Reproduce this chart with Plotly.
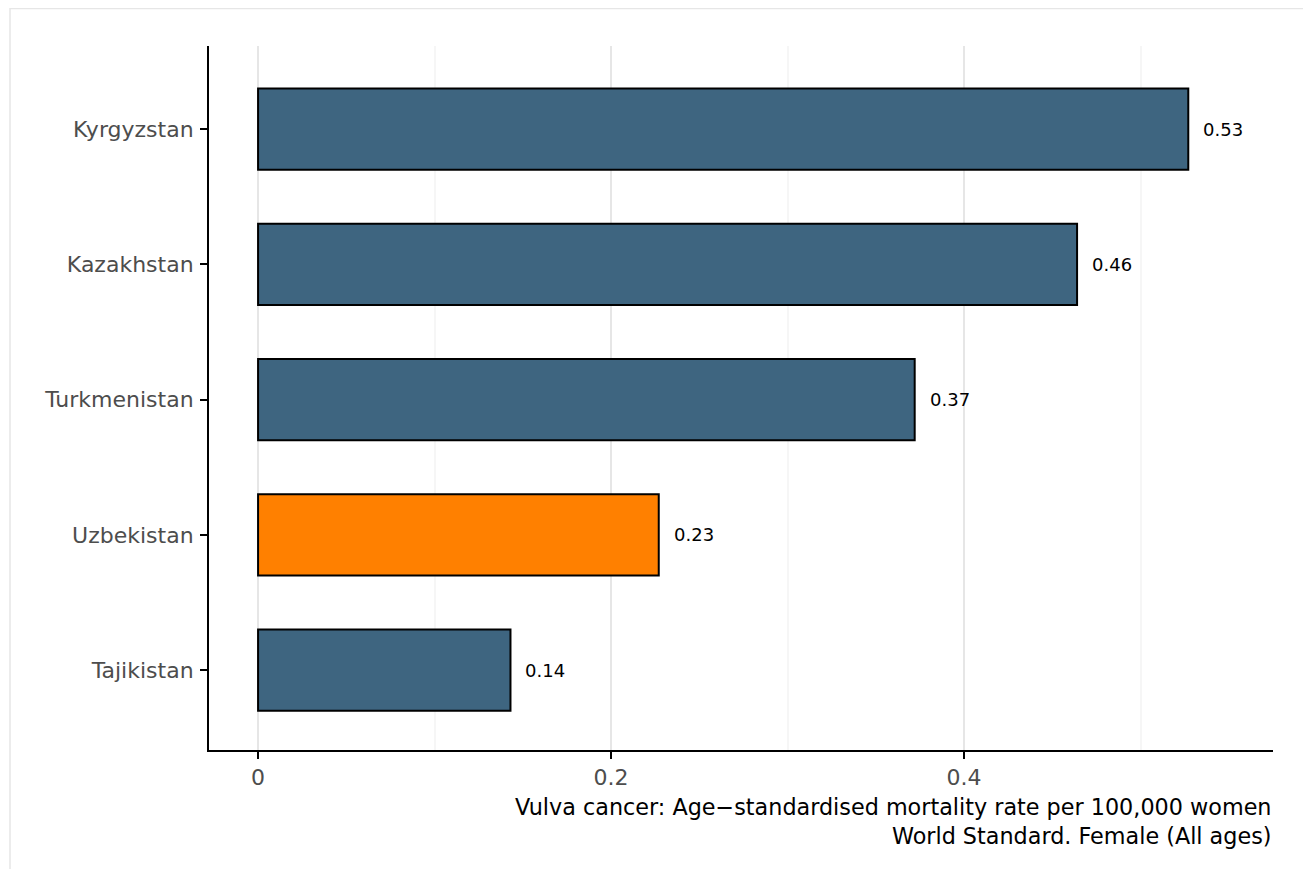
import plotly.graph_objects as go

countries = ["Tajikistan", "Uzbekistan", "Turkmenistan", "Kazakhstan", "Kyrgyzstan"]
values = [0.143, 0.227, 0.372, 0.464, 0.527]
labels = ["0.14", "0.23", "0.37", "0.46", "0.53"]
colors = ["#3e6580", "#ff8000", "#3e6580", "#3e6580", "#3e6580"]
x_ticks = [0, 0.2, 0.4]
x_ticktext = ["0", "0.2", "0.4"]
x_minor = [0.1, 0.3, 0.5]
title_lines = ["Vulva cancer: Age\u2212standardised mortality rate per 100,000 women",
               "World Standard. Female (All ages)"]

# page body has an 8px margin; figure coordinates = screen - 8
W, H = 1303, 861
L, R, T, B = 201, 38, 38, 119
pw, ph = W - L - R, H - T - B

def px(x):
    return (x - L) / pw

def py(y):
    return (H - B - y) / ph

fig = go.Figure()
fig.add_trace(go.Bar(
    x=values, y=countries, orientation="h",
    marker=dict(color=colors, line=dict(color="black", width=2)),
    width=0.6, hoverinfo="skip", showlegend=False,
))

for c, v, t in zip(countries, values, labels):
    fig.add_annotation(x=v, y=c, text=t, showarrow=False, xanchor="left",
                       xshift=13, font=dict(size=18, color="black", family="DejaVu Sans"))

fig.add_annotation(xref="paper", yref="paper", x=1, y=py(813), text="<br>".join(title_lines),
                   showarrow=False, xanchor="right", yanchor="middle", align="right",
                   font=dict(size=22.3, color="black", family="DejaVu Sans"))

fig.add_shape(type="rect", xref="paper", yref="paper",
              x0=px(2), x1=px(1310), y0=py(875), y1=py(0.5),
              line=dict(color="#e6e6e6", width=1.5), fillcolor="rgba(0,0,0,0)", layer="below")

fig.update_layout(
    width=W, height=H,
    margin=dict(l=L, r=R, t=T, b=B, pad=0),
    plot_bgcolor="white", paper_bgcolor="white",
    font=dict(family="DejaVu Sans"),
    xaxis=dict(
        range=[-0.0278, 0.575], tickvals=x_ticks, ticktext=x_ticktext,
        showgrid=True, gridcolor="#e6e6e6", gridwidth=2,
        minor=dict(tickvals=x_minor, showgrid=True, gridcolor="#f6f6f6", gridwidth=1.5, ticks=""),
        showline=True, linecolor="black", linewidth=2,
        ticks="outside", ticklen=7, tickwidth=2, tickcolor="black",
        tickfont=dict(size=22, color="#4d4d4d"), zeroline=False,
    ),
    yaxis=dict(
        range=[-0.59, 4.614], categoryorder="array", categoryarray=countries,
        showgrid=False, showline=True, linecolor="black", linewidth=2,
        ticks="outside", ticklen=7, tickwidth=2, tickcolor="black",
        tickfont=dict(size=22, color="#4d4d4d"), ticklabelstandoff=2,
    ),
)

fig.write_html("out.html")
